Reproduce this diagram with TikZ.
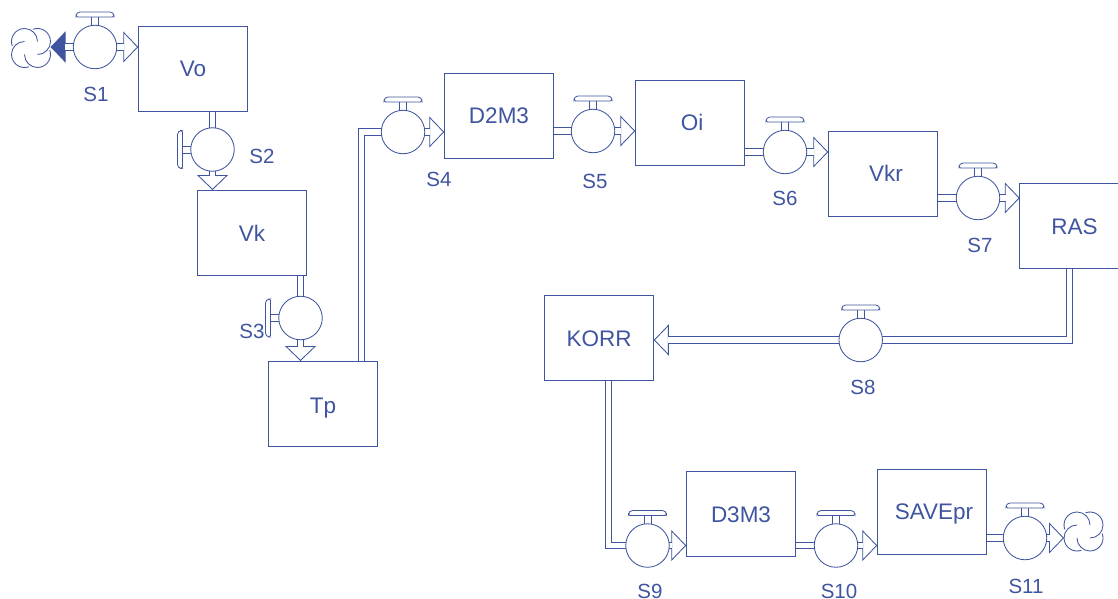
\documentclass[tikz,border=0pt]{standalone}
\usepackage{fontspec}
\setmainfont{Liberation Sans}
\usetikzlibrary{arrows.meta,backgrounds}
\definecolor{ink}{HTML}{3F559F}
\tikzset{
  base/.style={draw=ink,line width=0.85pt},
  tankbox/.style={base,fill=white,minimum width=109.5pt,minimum height=85pt,inner sep=0pt,outer sep=0pt,text=ink,font=\fontsize{22.5}{26}\selectfont,text height=17pt,text depth=0pt},
  valvebody/.style={base,circle,fill=white,minimum size=43.5pt,inner sep=0pt,outer sep=0pt},
  tag/.style={text=ink,font=\fontsize{20.5}{24}\selectfont,inner sep=0pt},
  pipe/.style={draw=ink,line width=0.85pt,double=white,double distance=5.8pt,shorten >=14pt},
  pipeplain/.style={draw=ink,line width=0.85pt,double=white,double distance=5.8pt},
  tipline/.style={base,-{Triangle[length=15pt,width=31pt,open,fill=white]}},
  tipfill/.style={base,-{Triangle[length=15pt,width=31pt,fill=ink]}},
  cloudspot/.style={circle,minimum size=39pt,inner sep=0pt,outer sep=0pt}
}
\newcommand\valve[4]{%
  \node[valvebody] (#1) at (#2,#3) {};
  \begin{scope}[shift={(#2,#3)},rotate=#4]
    \draw[base,line width=0.8pt] (-3.5,-21.7) -- (-3.5,-30) (3.5,-21.7) -- (3.5,-30);
    \draw[base,line width=0.8pt,rounded corners=1.5pt,fill=white] (-19,-30) -- (-19,-32.5) -- (-16.5,-35) -- (16.5,-35) -- (19,-32.5) -- (19,-30) -- cycle;
  \end{scope}}
\newcommand\cloudshape[3]{%
  \node[cloudspot] (#1) at (#2,#3) {};
  \begin{scope}[shift={(#2,#3)}]
    \draw[base] (-6.5,-6.5) ++(13,0) arc[start angle=0,end angle=-200,radius=13];
    \draw[base] (6.5,-6.5) ++(0,13) arc[start angle=90,end angle=-110,radius=13];
    \draw[base] (6.5,6.5) ++(-13,0) arc[start angle=180,end angle=-20,radius=13];
    \draw[base] (-6.5,6.5) ++(0,-13) arc[start angle=270,end angle=70,radius=13];
  \end{scope}}
\newcommand\flow[1]{\draw[tipline] #1; \draw[pipe] #1;}
\begin{document}
\begin{tikzpicture}[x=1pt,y=-1pt]
\useasboundingbox (0,0) rectangle (1118,599);
\clip (0,0) rectangle (1118,599);
\node[tankbox] (vo) at (193,68.5) {Vo};
\node[tankbox] (vk) at (252,232.5) {Vk};
\node[tankbox,text height=19pt] (tp) at (323,403.5) {Tp};
\node[tankbox] (d2m3) at (499,115.5) {D2M3};
\node[tankbox] (oi) at (690,122.5) {\hspace{4pt}Oi};
\node[tankbox,text height=16pt] (vkr) at (883,173.5) {\hspace{6pt}Vkr};
\node[tankbox] (ras) at (1074.5,225.5) {RAS};
\node[tankbox] (korr) at (599,337.5) {KORR};
\node[tankbox] (d3m3) at (741,513.5) {D3M3};
\node[tankbox,text height=16pt] (savepr) at (932,511.5) {\hspace{4pt}SAVEpr};
\valve{s1}{95}{47}{0}
\valve{s2}{212.5}{149.5}{90}
\valve{s3}{300.5}{318}{90}
\valve{s4}{403}{132}{0}
\valve{s5}{593}{131}{0}
\valve{s6}{785}{152}{0}
\valve{s7}{978}{198}{0}
\valve{s8}{860.7}{340}{0}
\valve{s9}{647.5}{545.5}{0}
\valve{s10}{836}{545.5}{0}
\valve{s11}{1025}{538}{0}
\cloudshape{cloudl}{31}{48}
\cloudshape{cloudr}{1083.5}{531.5}
\node[tag] (ls1) at (96,94) {S1};
\node[tag] (ls2) at (262,156) {S2};
\node[tag] (ls3) at (252,331) {S3};
\node[tag] (ls4) at (439,179) {S4};
\node[tag] (ls5) at (595,181) {S5};
\node[tag] (ls6) at (785,198) {S6};
\node[tag] (ls7) at (980,245) {S7};
\node[tag] (ls8) at (863,387) {S8};
\node[tag] (ls9) at (650,591) {S9};
\node[tag] (ls10) at (839,591) {S10};
\node[tag] (ls11) at (1026,586) {S11};
\begin{scope}[on background layer]
  \draw[tipfill] (s1.west) -- (s1.west -| cloudl.east);
  \draw[pipe] (s1.west) -- (s1.west -| cloudl.east);
  \flow{(s1.east) -- (s1.east -| vo.west)}
  \draw[pipeplain] (s2.north |- vo.south) -- (s2.north);
  \flow{(s2.south) -- (s2.south |- vk.north)}
  \draw[pipeplain] (s3.north |- vk.south) -- (s3.north);
  \flow{(s3.south) -- (s3.south |- tp.north)}
  \draw[pipeplain] ([xshift=38.5pt]tp.north) |- (s4.west);
  \flow{(s4.east) -- (s4.east -| d2m3.west)}
  \draw[pipeplain] (s5.west -| d2m3.east) -- (s5.west);
  \flow{(s5.east) -- (s5.east -| oi.west)}
  \draw[pipeplain] (s6.west -| oi.east) -- (s6.west);
  \flow{(s6.east) -- (s6.east -| vkr.west)}
  \draw[pipeplain] (s7.west -| vkr.east) -- (s7.west);
  \flow{(s7.east) -- (s7.east -| ras.west)}
  \draw[pipeplain] ([xshift=-5pt]ras.south) |- (s8.east);
  \flow{(s8.west) -- (s8.west -| korr.east)}
  \draw[pipeplain] ([xshift=9.5pt]korr.south) |- (s9.west);
  \flow{(s9.east) -- (s9.east -| d3m3.west)}
  \draw[pipeplain] (s10.west -| d3m3.east) -- (s10.west);
  \flow{(s10.east) -- (s10.east -| savepr.west)}
  \draw[pipeplain] (s11.west -| savepr.east) -- (s11.west);
  \flow{(s11.east) -- (s11.east -| cloudr.west)}
\end{scope}
\end{tikzpicture}
\end{document}
